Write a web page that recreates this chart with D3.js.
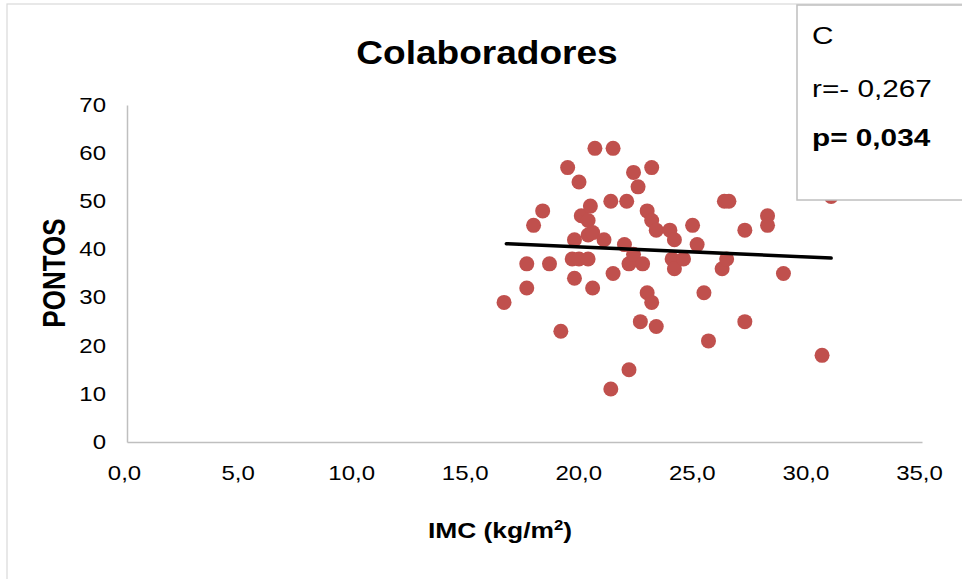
<!DOCTYPE html>
<html><head><meta charset="utf-8">
<script src="https://cdn.jsdelivr.net/npm/d3@7"></script>
<style>
html,body{margin:0;padding:0;background:#fff;}
svg{display:block;font-family:"Liberation Sans",Arial,sans-serif;}
</style></head>
<body>
<svg id="chart" width="962" height="579"></svg>
<script>
// ---- data ----
const imc = [16.6,17.6,17.6,17.9,18.3,18.6,19.1,19.4,19.6,19.7,19.7,19.9,20.0,20.3,19.9,20.3,20.4,20.3,20.5,20.6,20.5,21.0,21.3,21.4,21.4,21.3,22.0,21.9,22.1,22.1,22.3,22.5,22.3,22.7,22.6,22.9,22.9,23.1,23.1,23.1,23.3,23.3,23.9,24.1,24.0,24.1,24.5,24.9,25.1,25.4,25.6,26.2,26.3,26.5,26.4,27.2,27.2,28.2,28.2,28.9,30.6,31.0];
const pontos = [29,37,32,45,48,37,23,57,38,42,34,54,47,46,38,38,49,43,43.5,61,32,42,50,61,35,11,50,41,37,15,56,53,39,37,25,48,31,46,57,29,44,24,44,42,38,36,38,45,41,31,21,36,50,50,38,44,25,47,45,35,18,51];
const trendX = [16.7, 31.0];
const trendY = [41.2, 38.2];
const xTicks = [0,5,10,15,20,25,30,35];
const yTicks = [0,10,20,30,40,50,60,70];
const title = "Colaboradores";
const statLines = ["C", "r=- 0,267", "p= 0,034"];

const SX = 1.2; // horizontal text stretch seen in the reference
const svg = d3.select("#chart");
const x = d3.scaleLinear().domain([0,35]).range([127,922]);
const y = d3.scaleLinear().domain([0,70]).range([442,105]);

// outer chart border
svg.append("rect").attr("x",7).attr("y",4).attr("width",980).attr("height",580)
  .attr("fill","#fff").attr("stroke","#D9D9D9").attr("stroke-width",1.2);

// title
svg.append("text").attr("transform",`translate(487,64) scale(1.09,1)`)
  .attr("text-anchor","middle").attr("font-size",34).attr("font-weight","bold")
  .attr("fill","#000").text(title);

// axes
const gx = svg.append("g").attr("transform","translate(0,442)")
  .call(d3.axisBottom(x).tickValues(xTicks).tickSize(0).tickPadding(24)
    .tickFormat(d => d.toFixed(1).replace(".",",")));
const gy = svg.append("g").attr("transform","translate(127,0)")
  .call(d3.axisLeft(y).tickValues(yTicks).tickSize(0).tickPadding(21).tickFormat(d3.format("d")));
[gx,gy].forEach(g=>{
  g.select(".domain").attr("stroke","#BFBFBF").attr("stroke-width",1.5);
  g.selectAll("text").attr("font-size",20).attr("fill","#000")
    .attr("font-family","'Liberation Sans',Arial,sans-serif");
});
gx.selectAll("text").attr("x",-3/SX).attr("transform",`scale(${SX},1)`);
gy.selectAll("text").attr("x",-21/SX).attr("transform",`scale(${SX},1)`);

// axis titles
const xt = svg.append("text").attr("transform",`translate(500,538) scale(${SX},1)`)
  .attr("text-anchor","middle").attr("font-size",22).attr("font-weight","bold").attr("fill","#000");
xt.append("tspan").text("IMC (kg/m");
xt.append("tspan").attr("font-size",14).attr("dy",-8).text("2");
xt.append("tspan").attr("dy",8).text(")");

svg.append("text").attr("transform",`translate(65,273) rotate(-90) scale(1,${SX})`)
  .attr("text-anchor","middle").attr("font-size",26).attr("font-weight","bold")
  .attr("fill","#000").text("PONTOS");

// points
svg.append("g").selectAll("circle").data(imc.map((v,i)=>[v,pontos[i]])).join("circle")
  .attr("cx",d=>x(d[0])).attr("cy",d=>y(d[1])).attr("r",7.5).attr("fill","#C0504D");

// trend line
svg.append("path").datum(trendX.map((v,i)=>[v,trendY[i]]))
  .attr("d",d3.line().x(d=>x(d[0])).y(d=>y(d[1])))
  .attr("stroke","#000").attr("stroke-width",3.5).attr("fill","none").attr("stroke-linecap","round");

// stats box
const box = svg.append("g");
box.append("rect").attr("x",797).attr("y",5).attr("width",200).attr("height",195)
  .attr("fill","#fff").attr("stroke","#BFBFBF").attr("stroke-width",1.5);
const by = [44,97,146];
statLines.forEach((t,i)=>{
  box.append("text").attr("transform",`translate(812,${by[i]}) scale(1.24,1)`)
    .attr("font-size",24).attr("font-weight", i===2?"bold":"normal").attr("fill","#000").text(t);
});
</script>
</body></html>
